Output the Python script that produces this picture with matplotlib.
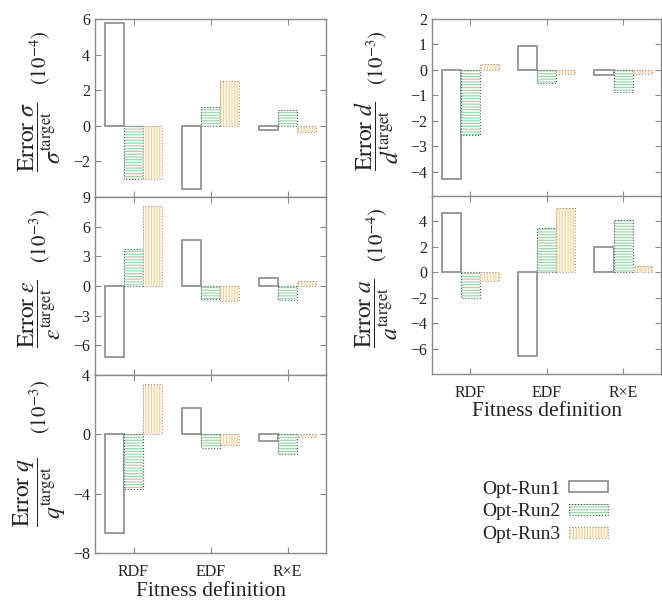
import numpy as np
import matplotlib.pyplot as plt
from matplotlib.patches import Patch
from matplotlib.legend_handler import HandlerTuple

plt.rcParams['font.family'] = ['Liberation Serif', 'DejaVu Serif']
plt.rcParams['mathtext.fontset'] = 'stix'
plt.rcParams['hatch.linewidth'] = 0.9

# Daten (Fehler relativ zum Zielwert)
categories = ['RDF', 'EDF', 'R×E']
runs = ['Opt-Run1', 'Opt-Run2', 'Opt-Run3']

sigma_run1 = [5.8, -3.55, -0.22]
sigma_run2 = [-3.0, 1.05, 0.9]
sigma_run3 = [-3.0, 2.5, -0.35]

eps_run1 = [-7.2, 4.7, 0.8]
eps_run2 = [3.7, -1.3, -1.4]
eps_run3 = [8.1, -1.5, 0.5]

q_run1 = [-6.65, 1.75, -0.45]
q_run2 = [-3.7, -0.9, -1.35]
q_run3 = [3.4, -0.7, -0.2]

d_run1 = [-4.3, 0.95, -0.2]
d_run2 = [-2.55, -0.5, -0.88]
d_run3 = [0.25, -0.15, -0.15]

a_run1 = [4.7, -6.55, 1.95]
a_run2 = [-2.05, 3.45, 4.1]
a_run3 = [-0.65, 5.05, 0.5]

GREY = '#8a8a8a'
TXT = '#222222'
GREEN = '#9fd8ad'
ORANGE = '#fbcf93'

fig = plt.figure(figsize=(6.62, 6.05), dpi=100)

W = 231 / 662
H = 178 / 605
panels = [
    # (left, bottom, data, ylim, yticks, sym, exponent, show xlabels, unit y)
    (95 / 662, 1 - 197 / 605, (sigma_run1, sigma_run2, sigma_run3), (-4, 6), [-2, 0, 2, 4, 6],
     r'\sigma', '-4', False, 0.78),
    (95 / 662, 1 - 375 / 605, (eps_run1, eps_run2, eps_run3), (-9, 9), [-6, -3, 0, 3, 6, 9],
     r'\varepsilon', '-3', False, 0.78),
    (95 / 662, 1 - 553 / 605, (q_run1, q_run2, q_run3), (-8, 4), [-8, -4, 0, 4],
     r'q', '-3', True, 0.82),
    (432 / 662, 1 - 197 / 605, (d_run1, d_run2, d_run3), (-5, 2), [-4, -3, -2, -1, 0, 1, 2],
     r'd', '-3', False, 0.78),
    (432 / 662, 1 - 374 / 605, (a_run1, a_run2, a_run3), (-8, 6), [-6, -4, -2, 0, 2, 4],
     r'a', '-4', True, 0.78),
]

x = np.arange(len(categories))
width = 0.25
offsets = [-0.25, 0, 0.25]

for left, bottom, data, ylim, yticks, sym, expo, show_x, unit_y in panels:
    w = W if left < 0.5 else 1 - left - 0.001
    ax = fig.add_axes([left, bottom, w, H])
    r1, r2, r3 = data
    ax.bar(x + offsets[0], r1, width, facecolor='white', edgecolor=GREY, linewidth=1.2)
    ax.bar(x + offsets[1], r2, width, facecolor='white', edgecolor=GREEN,
           hatch='------', linewidth=0)
    ax.bar(x + offsets[1], r2, width, fill=False, edgecolor='#555555',
           linestyle=':', linewidth=0.8)
    ax.bar(x + offsets[2], r3, width, facecolor='white', edgecolor=ORANGE,
           hatch='||||||', linewidth=0)
    ax.bar(x + offsets[2], r3, width, fill=False, edgecolor='#999999',
           linestyle=':', linewidth=0.8)

    ax.set_xlim(-0.5, 2.5)
    ax.set_ylim(*ylim)
    ax.set_yticks(yticks)
    ax.set_yticklabels([str(t).replace('-', '\u2212') for t in yticks])
    ax.set_xticks(x)
    if show_x:
        ax.set_xticklabels(categories)
        ax.set_xlabel('Fitness definition', fontsize=15.5, color=TXT, labelpad=1)
    else:
        ax.set_xticklabels([])
    ax.tick_params(direction='in', top=True, right=True, length=4, width=0.8,
                   colors=GREY, labelcolor=TXT, labelsize=11.5)
    ax.tick_params(axis='x', pad=8)
    for s in ax.spines.values():
        s.set_color(GREY)
        s.set_linewidth(1.0)

    ax.text(-0.24, 0.34,
            r'$\dfrac{\mathrm{Error}\ %s}{%s^{\mathrm{target}}}$' % (sym, sym),
            transform=ax.transAxes, rotation=90, ha='center', va='center',
            fontsize=17, color=TXT)
    ax.text(-0.238, unit_y, r'$(10^{%s})$' % expo.replace('-', '\u2212'),
            transform=ax.transAxes, rotation=90, ha='center', va='center',
            fontsize=15, color=TXT)

# Legende
h1 = Patch(facecolor='white', edgecolor=GREY, linewidth=1.2)
h2 = (Patch(facecolor='white', edgecolor=GREEN, hatch='------', linewidth=0),
      Patch(fill=False, edgecolor='#555555', linestyle=':', linewidth=0.8))
h3 = (Patch(facecolor='white', edgecolor=ORANGE, hatch='||||||', linewidth=0),
      Patch(fill=False, edgecolor='#999999', linestyle=':', linewidth=0.8))
leg = fig.legend([h1, h2, h3], runs, loc='center',
                 bbox_to_anchor=(545 / 662, 1 - 512 / 605),
                 frameon=False, markerfirst=False, fontsize=14,
                 handlelength=2.0, handleheight=0.5, handletextpad=0.45,
                 labelspacing=0.3,
                 handler_map={tuple: HandlerTuple(ndivide=1, pad=0)})
for t in leg.get_texts():
    t.set_color(TXT)

fig.savefig('out.png', dpi=100)
